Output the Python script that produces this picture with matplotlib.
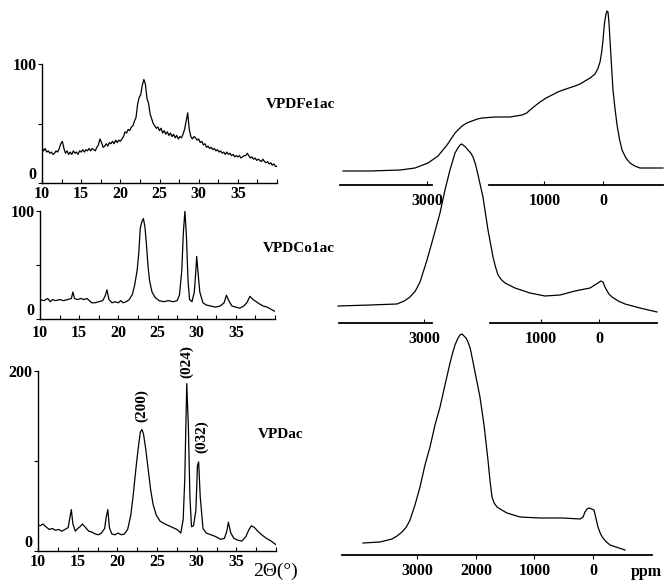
import numpy as np
import matplotlib
matplotlib.use("Agg")
import matplotlib.pyplot as plt
from matplotlib.ticker import MultipleLocator, FixedLocator

#%% XRD data (2theta in degrees, intensity in a.u.)
tt_fe = [10.0 + 0.2 * i for i in range(151)]
i_fe = [30, 27, 29, 26, 27, 25, 26, 24, 25, 27,
        26, 29, 33, 35, 29, 25, 27, 24, 26, 24,
        27, 25, 26, 24, 27, 26, 28, 26, 28, 27,
        29, 27, 29, 28, 27, 30, 32, 37, 34, 30,
        31, 33, 31, 34, 33, 35, 33, 36, 34, 36,
        35, 37, 39, 43, 42, 45, 44, 47, 48, 52,
        55, 66, 72, 74, 82, 87, 83, 71, 67, 58,
        54, 50, 48, 46, 47, 44, 46, 42, 44, 41,
        43, 40, 42, 39, 41, 38, 40, 37, 39, 38,
        41, 45, 52, 59, 45, 39, 37, 39, 38, 36,
        37, 34, 35, 32, 33, 30, 31, 29, 30, 28,
        29, 27, 28, 26, 27, 25, 26, 24, 26, 24,
        25, 23, 24, 22, 23, 22, 23, 21, 22, 23,
        23, 25, 23, 21, 22, 20, 21, 19, 20, 19,
        18, 20, 18, 17, 18, 16, 17, 15, 16, 14,
        14]

tt_co = [10.0, 10.5, 11.0, 11.3, 11.6, 12.0, 12.5, 13.0, 13.5, 14.0,
         14.2, 14.4, 14.8, 15.2, 15.6, 16.0, 16.3, 16.6, 17.0, 17.5,
         18.0, 18.3, 18.55, 18.8, 19.2, 19.6, 20.0, 20.3, 20.6, 21.0,
         21.4, 21.8, 22.1, 22.4, 22.6, 22.8, 23.0, 23.2, 23.4, 23.6,
         23.8, 24.0, 24.3, 24.7, 25.2, 25.8, 26.4, 27.0, 27.5, 27.8,
         28.1, 28.3, 28.5, 28.7, 28.9, 29.1, 29.4, 29.7, 29.9, 30.0,
         30.15, 30.4, 30.8, 31.2, 31.8, 32.4, 33.0, 33.5, 33.8, 34.1,
         34.5, 35.0, 35.5, 36.0, 36.4, 36.8, 37.2, 37.6, 38.0, 38.5,
         39.0, 39.5, 40.0]
i_co = [18, 17, 19, 16, 18, 17, 18, 17, 18, 19,
        25, 19, 18, 19, 18, 19, 17, 15, 15, 16,
        17, 21, 27, 18, 15, 16, 15, 17, 15, 16,
        18, 23, 32, 45, 60, 84, 90, 93, 85, 68,
        48, 35, 25, 20, 17, 16, 17, 16, 17, 22,
        45, 80, 100, 75, 35, 18, 16, 25, 45, 58,
        45, 25, 15, 13, 12, 11, 12, 15, 22, 17,
        12, 11, 10, 12, 15, 21, 18, 16, 14, 12,
        11, 9, 7]

tt_vpd = [10.0, 10.3, 10.6, 11.0, 11.4, 11.8, 12.2, 12.6, 13.0, 13.4,
          13.8, 14.0, 14.2, 14.4, 14.7, 15.0, 15.3, 15.6, 16.0, 16.4,
          16.8, 17.2, 17.6, 18.0, 18.4, 18.6, 18.8, 19.0, 19.3, 19.7,
          20.1, 20.5, 20.9, 21.3, 21.7, 22.0, 22.3, 22.6, 22.9, 23.1,
          23.3, 23.6, 23.9, 24.2, 24.5, 24.9, 25.4, 26.0, 26.5, 27.0,
          27.5, 28.0, 28.3, 28.5, 28.75, 28.95, 29.15, 29.35, 29.6, 29.9,
          30.1, 30.25, 30.45, 30.8, 31.2, 31.8, 32.4, 33.0, 33.5, 33.8,
          34.0, 34.3, 34.7, 35.2, 35.7, 36.2, 36.6, 36.9, 37.3, 37.7,
          38.2, 38.8, 39.4, 40.0]
i_vpd = [29, 28, 30, 27, 24, 25, 23, 24, 22, 24,
         26, 36, 46, 30, 22, 25, 27, 30, 26, 22,
         21, 19, 18, 20, 25, 38, 46, 26, 19, 18,
         20, 18, 19, 24, 40, 62, 88, 112, 132, 135,
         130, 112, 90, 68, 52, 40, 33, 30, 28, 26,
         24, 20, 35, 80, 186, 140, 60, 27, 28, 45,
         95, 99, 60, 25, 20, 18, 16, 13, 14, 22,
         32, 20, 14, 12, 11, 16, 24, 28, 26, 22,
         18, 14, 11, 7]

hkl_labels = ["(200)", "(024)", "(032)"]
hkl_pos = [23.1, 28.75, 30.6]
hkl_height = [162, 210, 127]

#%% NMR data (ppm, intensity in a.u.)
ppm_fe = [4429, 3969, 3458, 3203, 2981, 2811, 2658, 2521, 2402, 2320,
          2232, 2140, 2061, 1840, 1584, 1380, 1300, 1244, 1160, 1073,
          969, 869, 770, 681, 580, 477, 390, 307, 220, 136,
          90, 51, 20, 0, -25, -51, -68, -85, -102, -119,
          -145, -170, -205, -239, -280, -324, -390, -460, -540, -630,
          -1022]
nmr_fe = [0, 0, 1, 3, 8, 15, 26, 38, 45, 48,
          50, 52, 53, 54, 54, 56, 58, 61, 65, 69,
          73, 76, 79, 81, 83, 85, 87, 90, 93, 97,
          102, 109, 120, 131, 148, 157, 160, 159, 148, 131,
          105, 81, 62, 46, 32, 21, 13, 8, 5, 3,
          3]

ppm_co = [4477, 3928, 3465, 3340, 3242, 3150, 3070, 2950, 2830, 2727,
          2642, 2556, 2470, 2420, 2384, 2358, 2333, 2290, 2247, 2200,
          2161, 2120, 2075, 1990, 1904, 1818, 1770, 1732, 1670, 1612,
          1441, 1184, 926, 669, 412, 154, 17, -30, -69, -95,
          -120, -170, -223, -330, -446, -703, -995]
nmr_co = [0, 1, 2, 5, 9, 15, 24, 46, 71, 93,
          116, 136, 153, 158, 161, 162, 161, 159, 156, 153,
          149, 142, 131, 109, 76, 49, 38, 31, 26, 23,
          18, 13, 10, 11, 15, 18, 23, 25, 24, 20,
          17, 12, 9, 5, 2, -2, -6]

ppm_vpd = [3932, 3641, 3436, 3350, 3265, 3190, 3128, 3043, 2957, 2872,
           2786, 2701, 2615, 2530, 2444, 2400, 2359, 2315, 2274, 2240,
           2205, 2170, 2137, 2100, 2068, 2000, 1932, 1863, 1795, 1760,
           1726, 1690, 1641, 1560, 1470, 1248, 906, 513, 222, 170,
           137, 100, 68, 25, -17, -50, -85, -130, -171, -230,
           -291, -547]
nmr_vpd = [0, 1, 4, 7, 11, 16, 23, 38, 56, 78,
           96, 118, 136, 158, 180, 190, 198, 204, 208, 209,
           207, 205, 201, 195, 186, 166, 146, 118, 83, 62,
           46, 40, 36, 33, 30, 26, 25, 25, 24, 26,
           31, 34, 35, 34, 33, 25, 16, 9, 5, 1,
           -2, -7]

sample_names = ["VPDFe1ac", "VPDCo1ac", "VPDac"]

#%% Figure
W, H = 665, 583
fig = plt.figure(figsize=(W / 100, H / 100), dpi=100)
serif = "Liberation Serif"
tick_font = dict(family=serif, weight="bold", size=11.5)


def px_axes(left, top, right, bottom):
	return fig.add_axes([left / W, 1 - bottom / H, (right - left) / W, (bottom - top) / H])


def style_xrd(ax, ymax, pad):
	ax.set_xlim(10, 40)
	ax.set_ylim(0, ymax)
	ax.set_facecolor("none")
	for side in ["top", "right"]:
		ax.spines[side].set_visible(False)
	for side in ["left", "bottom"]:
		ax.spines[side].set_linewidth(1.0)
	ax.xaxis.set_major_locator(FixedLocator([10, 15, 20, 25, 30, 35, 40]))
	ax.xaxis.set_minor_locator(MultipleLocator(2.5))
	ax.set_xticklabels(["10", "15", "20", "25", "30", "35", ""], **tick_font)
	ax.set_yticks([0, ymax / 2, ymax])
	ax.set_yticklabels(["0", "", "%d" % ymax], **tick_font)
	ax.get_yticklabels()[0].set_va("bottom")
	ax.tick_params(axis="x", which="both", direction="in", length=3, width=0.8, pad=pad)
	ax.tick_params(axis="y", direction="out", length=3, width=0.8, pad=1)


ax_fe = px_axes(42, 64, 277, 183)
ax_fe.plot(tt_fe, i_fe, color="black", lw=0.9)
style_xrd(ax_fe, 100, 2)

ax_co = px_axes(40, 211, 275, 319)
ax_co.plot(tt_co, i_co, color="black", lw=0.9)
style_xrd(ax_co, 100, 4)

ax_vpd = px_axes(38, 371, 276, 551)
ax_vpd.plot(tt_vpd, i_vpd, color="black", lw=0.9)
style_xrd(ax_vpd, 200, 2)
for lab, x, y in zip(hkl_labels, hkl_pos, hkl_height):
	ax_vpd.text(x, y, lab, rotation=90, ha="center", va="center",
		family=serif, weight="bold", size=11, clip_on=False)


def style_nmr(ax, xlim, ylim, segments, ticks, tick_dir, pad):
	ax.set_xlim(*xlim)
	ax.set_ylim(*ylim)
	ax.set_facecolor("none")
	for side in ax.spines:
		ax.spines[side].set_visible(False)
	for a, b in segments:
		ax.plot([a, b], [0, 0], color="black", lw=1.3,
			transform=ax.get_xaxis_transform(), clip_on=False)
	ax.set_xticks(ticks)
	ax.set_xticklabels([str(t) for t in ticks], **tick_font)
	ax.set_yticks([])
	ax.tick_params(axis="x", direction=tick_dir, length=3, width=0.8, pad=pad)


ax_n3 = px_axes(336, 320, 665, 555)
ax_n3.plot(ppm_vpd, nmr_vpd, color="black", lw=0.9, clip_on=False)
style_nmr(ax_n3, (4393, -1231), (-12, 223), [(4291, -1009)], [3000, 2000, 1000, 0], "out", 3)

ax_n2 = px_axes(336, 130, 665, 323)
ax_n2.plot(ppm_co, nmr_co, color="black", lw=0.9, clip_on=False)
style_nmr(ax_n2, (4511, -1132), (-17, 176), [(4460, 2864), (1870, -995)], [3000, 1000, 0], "in", 6)

ax_n1 = px_axes(336, 0, 665, 185)
ax_n1.plot(ppm_fe, nmr_fe, color="black", lw=0.9, clip_on=False)
style_nmr(ax_n1, (4549, -1056), (-14, 171), [(4480, 2913), (1942, -1022)], [3000, 1000, 0], "in", 6)

#%% Labels
name_pos = [(266, 104), (263, 248), (258, 434)]
for name, (x, y) in zip(sample_names, name_pos):
	fig.text(x / W, 1 - y / H, name, ha="left", va="center",
		family=serif, weight="bold", size=11)

fig.text(253 / W, 1 - 571 / H, "2\u0398(\u00b0)", ha="left", va="center",
	family=serif, size=14)
fig.text(631 / W, 1 - 572 / H, "ppm", ha="left", va="center",
	family=serif, weight="bold", size=11.5)

fig.savefig("out.png", dpi=100)
